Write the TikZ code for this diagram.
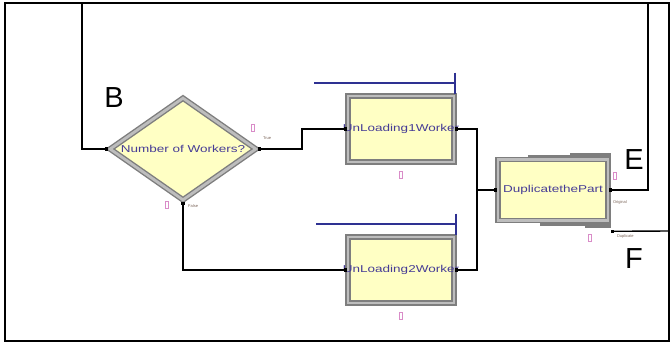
\documentclass[tikz,border=0pt]{standalone}
\usepackage{fontspec}
\setmainfont{Liberation Sans}
\newfontfamily\arenafont[FakeStretch=1.35]{Liberation Sans}
\definecolor{ArenaYellow}{HTML}{FFFFC4}
\definecolor{ArenaFrame}{HTML}{7E7E7E}
\definecolor{ArenaFrameLight}{HTML}{BDBDBD}
\definecolor{ArenaText}{HTML}{463C96}
\definecolor{ArenaQueue}{HTML}{2E3192}
\definecolor{ArenaPink}{HTML}{D98CC8}
\definecolor{ArenaTiny}{HTML}{7A6458}
\usepackage{tikz}
\usetikzlibrary{shapes.geometric,arrows.meta,positioning,calc}
\tikzset{
    % Arena module boxes
    module/.style={
        rectangle,
        draw=ArenaFrame,
        double=ArenaFrameLight,
        double distance=2.8pt,
        line width=1.4pt,
        fill=ArenaYellow,
        minimum width=106pt,
        minimum height=66pt,
        inner sep=0pt,
        outer sep=2.8pt
    },
    decision/.style={
        module,
        diamond,
        minimum width=148pt,
        minimum height=104pt
    },
    module text/.style={
        font=\arenafont\fontsize{10}{12}\selectfont,
        text=ArenaText,
        inner sep=0pt
    },
    flow/.style={
        line width=1.4pt,
        color=black
    },
    queue/.style={
        -{Bar[width=21pt,line width=1.6pt]},
        line width=1.6pt,
        color=ArenaQueue
    },
    counter/.style={
        rectangle,
        draw=ArenaPink,
        line width=0.7pt,
        minimum width=2.4pt,
        minimum height=7pt,
        inner sep=0pt
    },
    tiny label/.style={
        font=\fontsize{4}{5}\selectfont,
        text=ArenaTiny,
        inner sep=0pt
    },
    letter/.style={
        font=\fontsize{29}{29}\selectfont,
        inner sep=0pt
    }
}

\begin{document}
\begin{tikzpicture}[x=1pt, y=-1pt]
        \useasboundingbox (0,0) rectangle (670,343);
        \draw[line width=1.4pt] (5,3) rectangle (669,341);

        % Decide module
        \node[decision] (dec) at (183,149) {};
        \node[module text] (dec_t) at (dec.center) {Number of Workers?};

        % Process modules
        \node[module] (ul1) at (401,129) {};
        \node[module text] (ul1_t) at (ul1.center) {UnLoading1Worker};
        \node[module] (ul2) at (401,270) {};
        \node[module text] (ul2_t) at (ul2.center) {UnLoading2Worker};

        % Separate module
        \fill[ArenaFrame] (528,154.5) rectangle (611,159);
        \fill[ArenaFrame] (570,153) rectangle (611,156);
        \fill[ArenaFrame] (540,221) rectangle (611,225.5);
        \fill[ArenaFrame] (585,224) rectangle (611,227.5);
        \node[module, minimum width=110pt, minimum height=61pt] (dup) at (553,190) {};
        \node[module text] (dup_t) at (dup.center) {DuplicatethePart};

        \coordinate (orig) at (dup.east);
        \coordinate (dupl) at ([shift={(2,8)}]dup.south east);
        \coordinate (loopTR) at (648,3);
        \coordinate (loopTL) at (82,3);
        \coordinate (exitF) at (669,231);

        % Queues
        \draw[queue] ([shift={(-31,-10)}]ul1.north west) -- ([shift={(-1,-10)}]ul1.north east);
        \draw[queue] ([shift={(-29,-10)}]ul2.north west) -- ([shift={(0,-10)}]ul2.north east);

        % Connections
        \draw[flow] (dec.east) -- ++(42,0) |- (ul1.west);
        \draw[flow] (dec.south) |- (ul2.west);
        \draw[flow] (ul1.east) -- ++(20,0) |- (dup.west);
        \draw[flow] (ul2.east) -- ++(20,0) |- (dup.west);
        \draw[flow] (orig) -| (loopTR) -| (loopTL) |- (dec.west);
        \draw[flow] (dupl) -- (exitF);

        % Ports
        \foreach \p in {dec.west,dec.east,dec.south,ul1.west,ul1.east,ul2.west,ul2.east,dup.west,orig,dupl}
            \fill (\p) ++(-1.6,-1.6) rectangle ++(3.2,3.2);

        % Counters
        \node[counter, below=6pt of ul1] (ul1_c) {};
        \node[counter, below=6pt of ul2] (ul2_c) {};
        \node[counter] (true_c) at (253,128) {};
        \node[counter] (false_c) at (167,205) {};
        \node[counter] (orig_c) at (615,176) {};
        \node[counter] (dupl_c) at (590,238) {};

        % Exit point labels
        \node[tiny label, above right=9pt and 3pt of dec.east] (true_l) {True};
        \node[tiny label, below right=1pt and 5pt of dec.south] (false_l) {False};
        \node[tiny label, below right=10pt and 2pt of orig] (orig_l) {Original};
        \node[tiny label, below right=3pt and 4pt of dupl] (dupl_l) {Duplicate};

        % Letters
        \node[letter] (labB) at (114,98) {B};
        \node[letter] (labE) at (634,160) {E};
        \node[letter] (labF) at (634,259) {F};
    \end{tikzpicture}
\end{document}
